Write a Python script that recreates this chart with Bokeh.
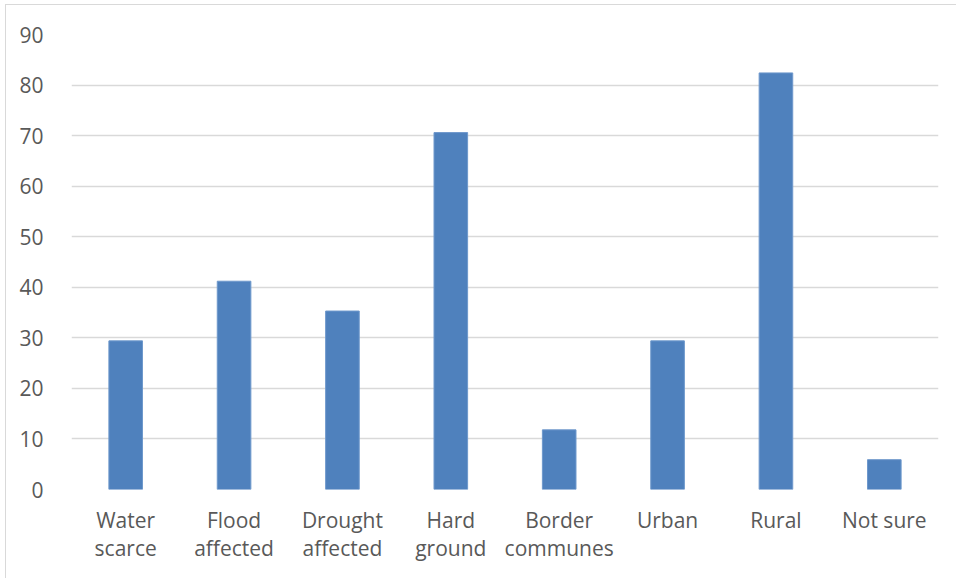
from bokeh.plotting import figure
from bokeh.models import ColumnDataSource, FixedTicker, Range1d
from bokeh.embed import file_html
from bokeh.resources import INLINE

categories = ["Water\nscarce", "Flood\naffected", "Drought\naffected", "Hard\nground",
              "Border\ncommunes", "Urban", "Rural", "Not sure"]
values = [29.4, 41.2, 35.3, 70.6, 11.8, 29.4, 82.4, 5.9]
y_ticks = [0, 10, 20, 30, 40, 50, 60, 70, 80, 90]

source = ColumnDataSource(data=dict(cat=categories, val=values))

p = figure(x_range=categories, y_range=Range1d(0, 90),
           width=950, height=573, margin=(5, 0, 0, 6),
           output_backend="svg", toolbar_location=None,
           min_border_left=65, min_border_right=18,
           min_border_top=29, min_border_bottom=89)
p.styles = {"outline": "1px solid #d9d9d9"}

p.vbar(x="cat", top="val", width=0.31, source=source,
       fill_color="#4f81bd", line_color="#6e98cc", line_width=1)

p.outline_line_color = None
p.xgrid.grid_line_color = None
p.ygrid.grid_line_color = "#d9d9d9"
p.ygrid.grid_line_width = 1.3
p.yaxis.ticker = FixedTicker(ticks=y_ticks)

for ax in (p.xaxis, p.yaxis):
    ax.axis_line_color = None
    ax.major_tick_line_color = None
    ax.minor_tick_line_color = None
    ax.major_label_text_font = "Open Sans"
    ax.major_label_text_font_size = "21px"
    ax.major_label_text_color = "#595959"

p.yaxis.major_label_standoff = 22
p.xaxis.major_label_standoff = 10
p.xaxis.major_label_text_line_height = 1.0

open("out.html", "w").write(file_html(p, INLINE))
